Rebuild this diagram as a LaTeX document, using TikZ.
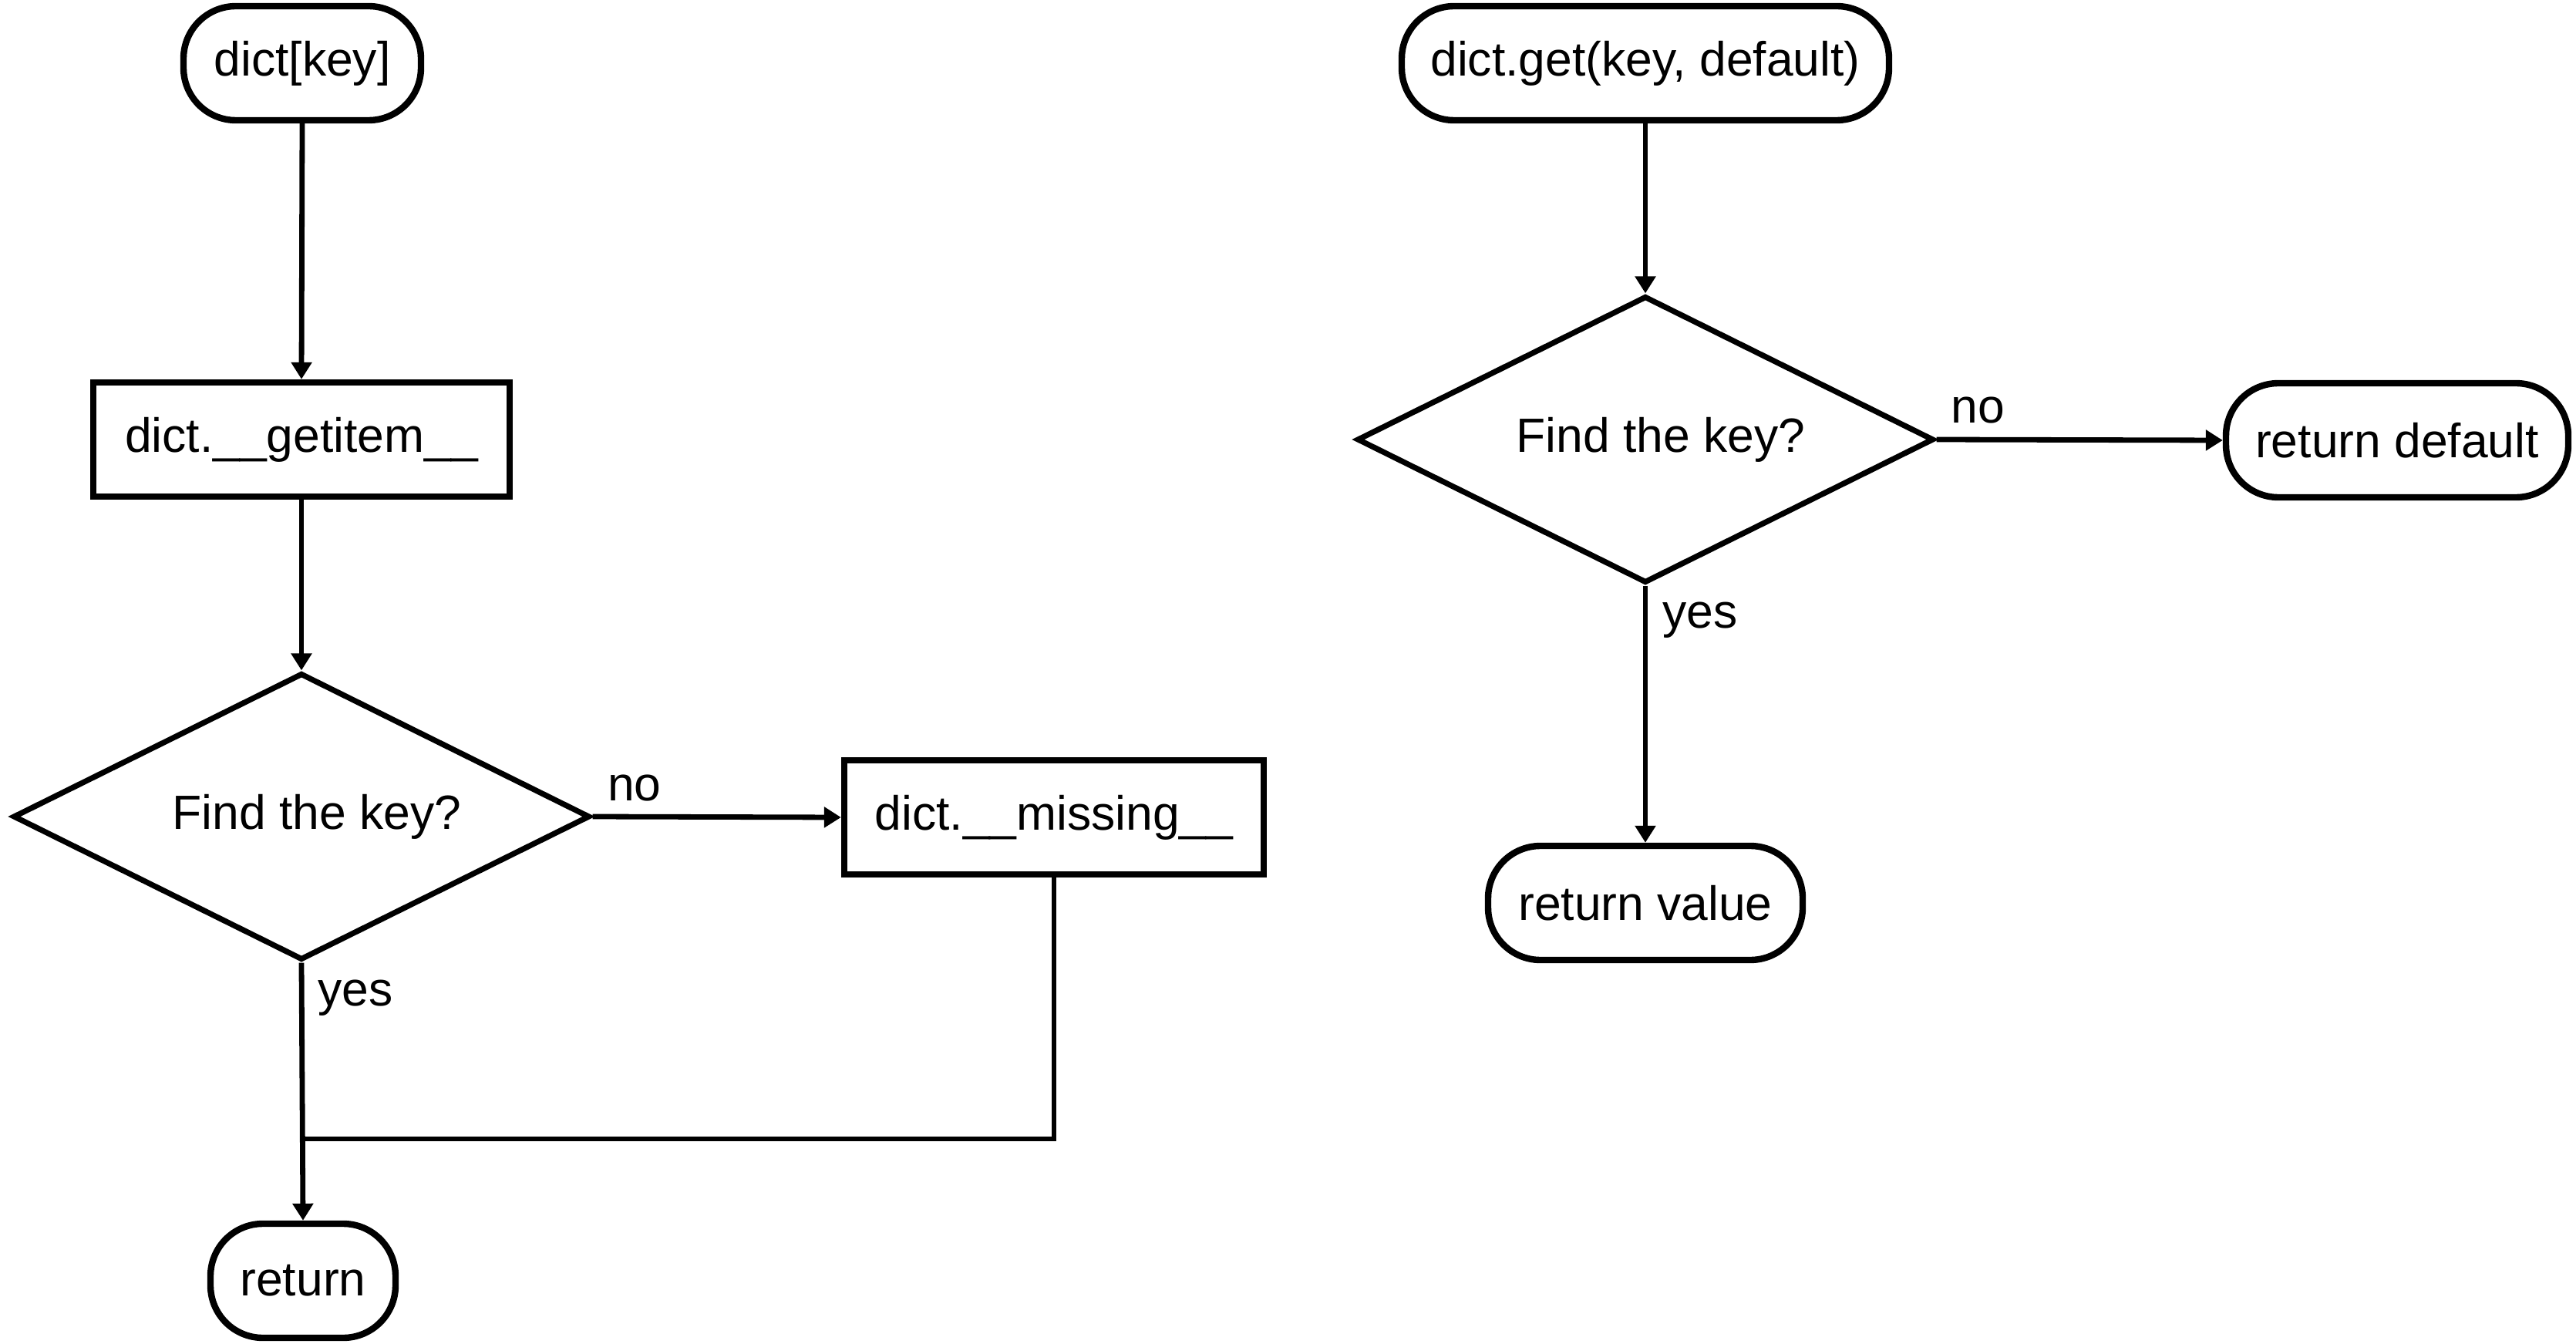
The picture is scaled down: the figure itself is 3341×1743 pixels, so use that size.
\documentclass[tikz,border=0pt]{standalone}
\usepackage{fontspec}
\setmainfont{Liberation Sans}
\usetikzlibrary{shapes.geometric,arrows.meta}
\begin{document}
\begin{tikzpicture}[x=0.25pt,y=-0.25pt,
  every node/.style={font=\fontsize{15.6}{18}\selectfont, inner sep=0pt},
  boxed/.style={draw, line width=2.1pt, rectangle, minimum width=135pt, minimum height=37pt},
  term/.style={draw, line width=2.1pt, rectangle, rounded corners=17pt, minimum height=37pt},
  decide/.style={draw, line width=1.8pt, diamond, shape aspect=2, minimum width=187pt, minimum height=93pt},
  conn/.style={line width=1.7pt},
  arr/.style={conn, -{Triangle[length=5.5pt,width=6.5pt]}},
  lbl/.style={}
]
\useasboundingbox (0,0) rectangle (3341,1743);
% left flow
\node[term, minimum width=77pt] (dk) at (392,82) {dict[key]};
\node[boxed, minimum width=135pt] (gi) at (391,570) {dict.\_\_getitem\_\_};
\node[decide] (d1) at (391,1059) {\hspace{10pt}Find the key?};
\node[boxed, minimum width=136pt] (ms) at (1367,1060) {dict.\_\_missing\_\_};
\node[term, minimum width=60pt] (rt) at (393,1661) {return};
\coordinate (jn) at (391,1477);
\node[lbl] (no1) at (823,1022) {no};
\node[lbl] (yes1) at (461,1294) {yes};
\draw[arr] (dk.south) -- (gi.north);
\draw[arr] (gi.south) -- (d1.north);
\draw[arr] (d1.east) -- (ms.west);
\draw[arr] (d1.south) -- (rt.north);
\draw[conn] (ms.south) |- (jn);
% right flow
\node[term, minimum width=158pt] (dg) at (2134,82) {dict.get(key, default)};
\node[decide] (d2) at (2134,570) {\hspace{10pt}Find the key?};
\node[term, minimum width=111pt] (rd) at (3109,571) {return default};
\node[term, minimum width=102pt] (rv) at (2134,1171) {return value};
\node[lbl] (no2) at (2565,532) {no};
\node[lbl] (yes2) at (2205,804) {yes};
\draw[arr] (dg.south) -- (d2.north);
\draw[arr] (d2.east) -- (rd.west);
\draw[arr] (d2.south) -- (rv.north);
\end{tikzpicture}
\end{document}
